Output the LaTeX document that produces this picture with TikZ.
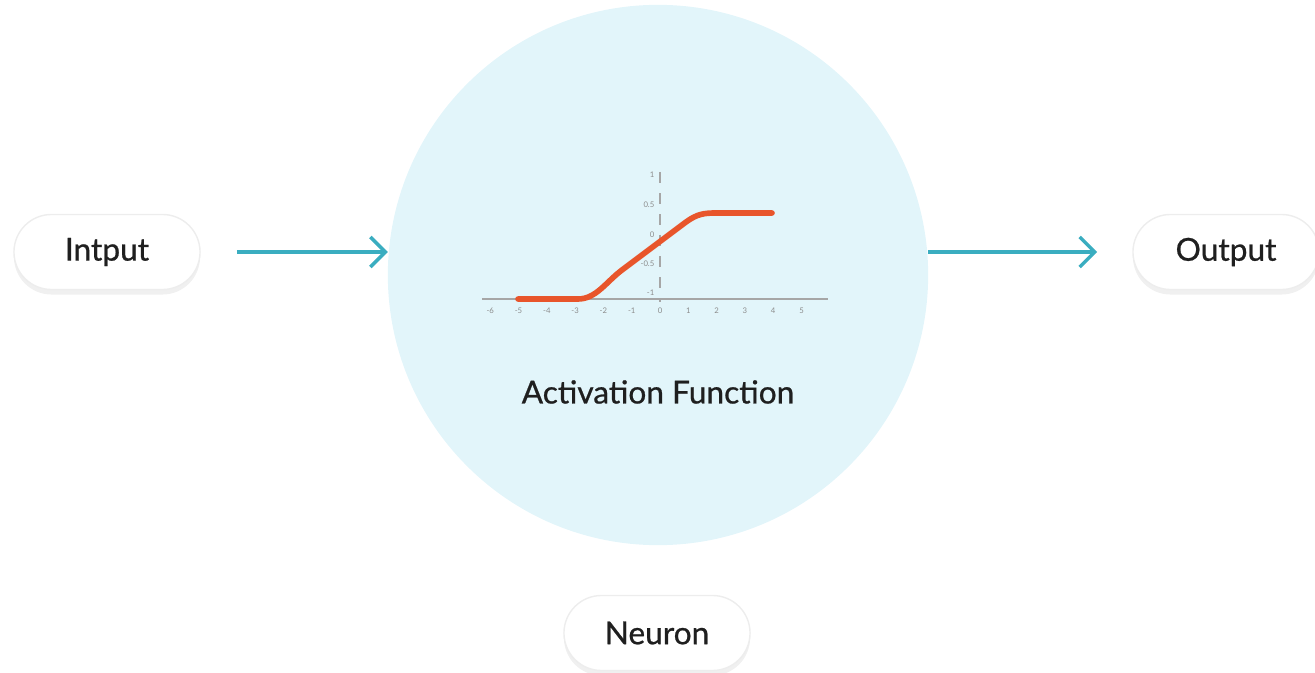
\documentclass[tikz,border=0pt]{standalone}
\usepackage{fontspec}
\setmainfont{Lato}[BoldFont=Lato, BoldFeatures={FakeBold=0.7}]
\usetikzlibrary{shadows}
\usetikzlibrary{arrows.meta}
\definecolor{cellblue}{HTML}{E2F5FA}
\definecolor{linkteal}{HTML}{3AADC0}
\definecolor{curvered}{HTML}{E8552B}
\tikzstyle{pill}=[rounded corners=0.375cm, fill=white, draw=black!7, minimum width=1.86cm, minimum height=0.75cm, inner sep=0pt, text=black!88, font=\fontsize{9}{10}\selectfont\bfseries, drop shadow={opacity=0.12, shadow xshift=0pt, shadow yshift=-0.05cm}]
\tikzstyle{edge}=[draw, linkteal, line width=1pt, -{Straight Barb[length=0.15cm, width=0.3cm]}]
\tikzstyle{tick}=[font=\fontsize{2.2}{3}\selectfont, text=black!45, inner sep=0pt]
\tikzstyle{axis}=[draw, black!35, line width=0.3pt]
\begin{document}
\begin{tikzpicture}[x=0.01cm, y=-0.01cm]
\useasboundingbox (0,0) rectangle (1315,673);

% Cell
\node[circle, fill=cellblue, minimum size=5.4cm, inner sep=0pt, outer sep=0pt] (neuron) at (658,275) {};

% Pills
\node[pill] (inp) at (107,252) {Intput};
\node[pill] (out) at (1226,252) {Output};
\node[pill] (name) at (657,633) {Neuron};

% Arrows
\path[edge, shorten <=0.36cm] (inp) -- (inp -| neuron.west);
\path[edge, shorten >=0.35cm] (out -| neuron.east) -- (out);

% Plot
\path[axis] (482,299) -- (828,299);
\path[axis, dashed] (660,172) -- (660,302);
\foreach \i in {-6,...,5}
    \node[tick] at ({660+28.3*\i},311) {\i};
\foreach \v/\py in {1/175, 0.5/205, 0/235, -0.5/264, -1/293}
    \node[tick, anchor=east] at (655,\py) {\v};
\draw[curvered, line width=1.6pt, line cap=round] (518,299) -- (578,299) .. controls (596,299) and (606,282) .. (622,270) -- (686,222) .. controls (697,214) and (704,213) .. (716,213) -- (772,213);

% Label
\node[text=black!88, font=\fontsize{9}{10}\selectfont\bfseries] (actlabel) at (658,392) {Activation Function};

\end{tikzpicture}
\end{document}
